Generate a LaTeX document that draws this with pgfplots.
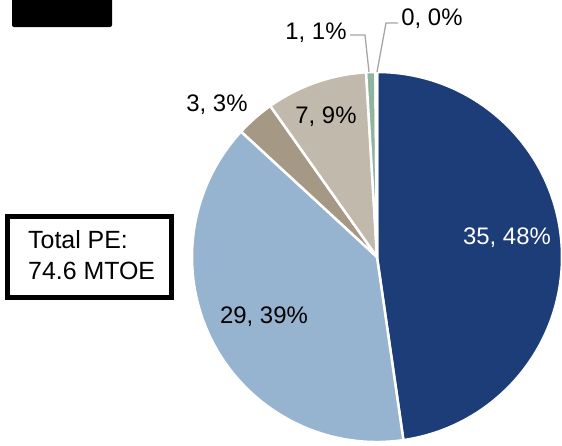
\documentclass[border=0pt]{standalone}
\usepackage{pgfplots}
\pgfplotsset{compat=1.18}
\usepackage{fontspec}
\setmainfont{Liberation Sans}
\definecolor{cA}{RGB}{28,61,120}
\definecolor{cB}{RGB}{150,179,207}
\definecolor{cC}{RGB}{165,152,133}
\definecolor{cD}{RGB}{192,185,172}
\definecolor{cE}{RGB}{143,181,160}
\definecolor{cF}{RGB}{215,228,240}
\definecolor{lead}{RGB}{166,166,166}
% values (MTOE)
\def\vA{35.6}\def\vB{29.2}\def\vC{2.5}\def\vD{6.6}\def\vE{0.6}\def\vF{0.1}
\pgfmathsetmacro\tot{\vA+\vB+\vC+\vD+\vE+\vF}
\pgfmathsetmacro\aO{90}
\pgfmathsetmacro\aA{\aO-360*\vA/\tot}
\pgfmathsetmacro\aB{\aA-360*\vB/\tot}
\pgfmathsetmacro\aC{\aB-360*\vC/\tot}
\pgfmathsetmacro\aD{\aC-360*\vD/\tot}
\pgfmathsetmacro\aE{\aD-360*\vE/\tot}
\pgfmathsetmacro\aF{\aE-360*\vF/\tot}
\newcommand\slice[3]{\fill[#3, draw=white, line width=2.5bp, line join=round] (axis cs:377,257) -- ++(#1:185bp) arc[start angle=#1, end angle=#2, radius=185bp] -- cycle;}
\begin{document}
\begin{tikzpicture}
\begin{axis}[
  x=1bp, y=1bp, xmin=0, xmax=562, ymin=0, ymax=446, y dir=reverse,
  scale only axis, hide axis, clip=false, anchor=south west, at={(0,0)},
  font=\fontsize{24}{30}\selectfont]
\slice{\aO}{\aA}{cA}
\slice{\aA}{\aB}{cB}
\slice{\aB}{\aC}{cC}
\slice{\aC}{\aD}{cD}
\slice{\aD}{\aE}{cE}
\slice{\aE}{\aF}{cF}
\draw[lead, line width=1.3bp] (axis cs:350,35) -- (axis cs:365,35) -- (axis cs:369,72);
\draw[lead, line width=1.3bp] (axis cs:398,23) -- (axis cs:386,23) -- (axis cs:377,72);
\node[text=white] at (axis cs:507,238) {35, 48\%};
\node at (axis cs:264,317) {29, 39\%};
\node at (axis cs:217,105) {3, 3\%};
\node at (axis cs:326,117) {7, 9\%};
\node at (axis cs:316,33) {1, 1\%};
\node at (axis cs:432,19) {0, 0\%};
\fill[black, rounded corners=2bp] (axis cs:12,-6) rectangle (axis cs:112,27);
\draw[line width=5bp] (axis cs:7.5,216.5) rectangle (axis cs:171.5,297.5);
\node[anchor=north west, align=left, inner sep=0pt, font=\fontsize{25}{31}\selectfont] at (axis cs:28,230) {Total PE:\\74.6 MTOE};
\end{axis}
\pgfresetboundingbox
\useasboundingbox (0,0) rectangle (562bp,446bp);
\end{tikzpicture}
\end{document}
